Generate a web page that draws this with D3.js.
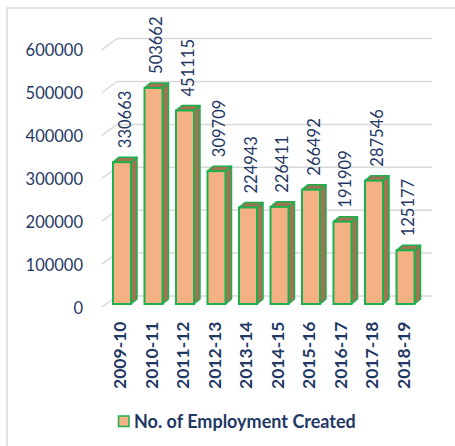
<!DOCTYPE html>
<html>
<head>
<meta charset="utf-8">
<script src="https://cdn.jsdelivr.net/npm/d3@7"></script>
<style>
  html, body { margin: 0; padding: 0; background: #fff; }
  svg { display: block; font-family: Lato, "Open Sans", sans-serif; }
</style>
</head>
<body>
<svg id="chart" width="455" height="446"></svg>
<script>
// Employment created per financial year
const years = ["2009-10", "2010-11", "2011-12", "2012-13", "2013-14",
               "2014-15", "2015-16", "2016-17", "2017-18", "2018-19"];
const employment = [330663, 503662, 451115, 309709, 224943,
                    226411, 266492, 191909, 287546, 125177];
const yTicks = [0, 100000, 200000, 300000, 400000, 500000, 600000];
const seriesName = "No. of Employment Created";

const navy = "#1f3864";
const faceFill = "#f4b183";
const shadeFill = "#9e7451";
const edge = "#1db04f";
const gridColor = "#d9d9d9";

const svg = d3.select("#chart");

// chart frame (top and left edges only)
svg.append("path")
  .attr("d", "M7,446 V8 H455")
  .attr("fill", "none")
  .attr("stroke", gridColor)
  .attr("stroke-width", 1.5);

// value scale on the plane of the column fronts
const y = d3.scaleLinear().domain([0, 600000]).range([304, 46.6]);
const x = d3.scaleBand().domain(years).range([106.25, 421.25])
  .paddingInner(0.4286).paddingOuter(0.2143);

// depth offsets: back wall and column depth
const wallDx = 15, wallDy = -8;
const colDx = 6, colDy = -5;

// gridlines on the back wall with a floor diagonal toward the front
const grid = svg.append("g");
yTicks.forEach(t => {
  const yb = y(t) + wallDy;
  grid.append("line")
    .attr("x1", 117).attr("x2", 432)
    .attr("y1", yb).attr("y2", yb)
    .attr("stroke", gridColor).attr("stroke-width", 1.5);
  grid.append("line")
    .attr("x1", 102).attr("y1", yb + 11)
    .attr("x2", 117).attr("y2", yb)
    .attr("stroke", gridColor).attr("stroke-width", 1.5);
});

// value axis labels
svg.append("g").selectAll("text").data(yTicks).join("text")
  .attr("x", 83)
  .attr("y", d => y(d) + 4)
  .attr("dy", "0.35em")
  .attr("text-anchor", "end")
  .attr("font-size", 16.5)
  .attr("fill", navy)
  .text(d => d);

// 3D columns
const bars = svg.append("g").selectAll("g").data(years).join("g");
const w = x.bandwidth();
bars.each(function (d, i) {
  const g = d3.select(this);
  const x0 = x(d), x1 = x0 + w;
  const yt = y(employment[i]), yb = y(0);
  // side face
  g.append("path")
    .attr("d", `M${x1},${yt} L${x1 + colDx},${yt + colDy} L${x1 + colDx},${yb + colDy} L${x1},${yb} Z`)
    .attr("fill", shadeFill).attr("stroke", edge).attr("stroke-width", 1.5)
    .attr("stroke-linejoin", "round");
  // top face
  g.append("path")
    .attr("d", `M${x0},${yt} L${x0 + colDx},${yt + colDy} L${x1 + colDx},${yt + colDy} L${x1},${yt} Z`)
    .attr("fill", shadeFill).attr("stroke", edge).attr("stroke-width", 1.5)
    .attr("stroke-linejoin", "round");
  // front face
  g.append("rect")
    .attr("x", x0).attr("y", yt)
    .attr("width", w).attr("height", yb - yt)
    .attr("fill", faceFill).attr("stroke", edge).attr("stroke-width", 2);
});

// value labels above each column
svg.append("g").selectAll("text").data(years).join("text")
  .attr("transform", (d, i) =>
    `translate(${x(d) + w / 2 + 3},${y(employment[i]) + colDy - 9}) rotate(-90)`)
  .attr("dy", "0.35em")
  .attr("text-anchor", "start")
  .attr("font-size", 16.5)
  .attr("fill", navy)
  .text((d, i) => employment[i]);

// category labels
svg.append("g").selectAll("text").data(years).join("text")
  .attr("transform", d => `translate(${x(d) + w / 2 - 2},321.5) rotate(-90)`)
  .attr("dy", "0.35em")
  .attr("text-anchor", "end")
  .attr("font-size", 17.5)
  .attr("font-weight", "bold")
  .attr("fill", navy)
  .text(d => d);

// legend
const legend = svg.append("g");
legend.append("rect")
  .attr("x", 118.5).attr("y", 416).attr("width", 10.5).attr("height", 10.5)
  .attr("fill", faceFill).attr("stroke", edge).attr("stroke-width", 1.5);
legend.append("text")
  .attr("x", 134).attr("y", 421.5)
  .attr("dy", "0.35em")
  .attr("font-size", 18)
  .attr("font-weight", "bold")
  .attr("fill", navy)
  .text(seriesName);
</script>
</body>
</html>
